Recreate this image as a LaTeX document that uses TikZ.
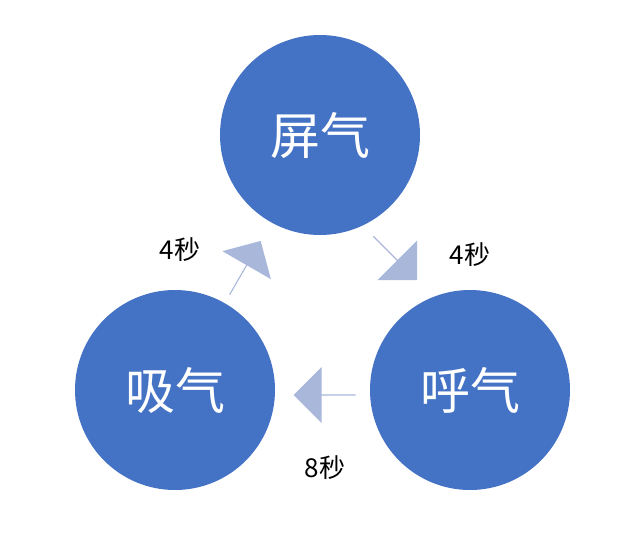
\documentclass[tikz,border=0pt]{standalone}
\usepackage{fontspec}
\newfontfamily\cjk{Noto Sans CJK SC}
\usetikzlibrary{shapes.arrows}
\definecolor{cblue}{HTML}{4472C4}
\definecolor{ablue}{HTML}{A9B7DB}
\begin{document}
\begin{tikzpicture}[x=1pt,y=-1pt,
  circ/.style={circle,fill=cblue,minimum size=200pt,inner sep=0pt,text=white,font=\cjk\fontsize{50}{50}\selectfont},
  barrow/.style={single arrow,fill=ablue,minimum height=62pt,minimum width=56pt,single arrow head extend=10pt,inner sep=0pt},
  lbl/.style={font=\cjk\fontsize{26}{26}\selectfont}]
\useasboundingbox (0,0) rectangle (640,551);
\node[circ] (top) at (320,135) {屏气};
\node[circ] (left) at (175,390) {吸气};
\node[circ] (right) at (470,390) {呼气};
\node[barrow,rotate=60] (a1) at (245,268) {};
\node[barrow,rotate=-45] (a2) at (395,258) {};
\node[barrow,rotate=180] (a3) at (325,395) {};
\node[lbl] (l1) at (180,250) {4秒};
\node[lbl] (l2) at (470,255) {4秒};
\node[lbl] (l3) at (325,468) {8秒};
\end{tikzpicture}
\end{document}
